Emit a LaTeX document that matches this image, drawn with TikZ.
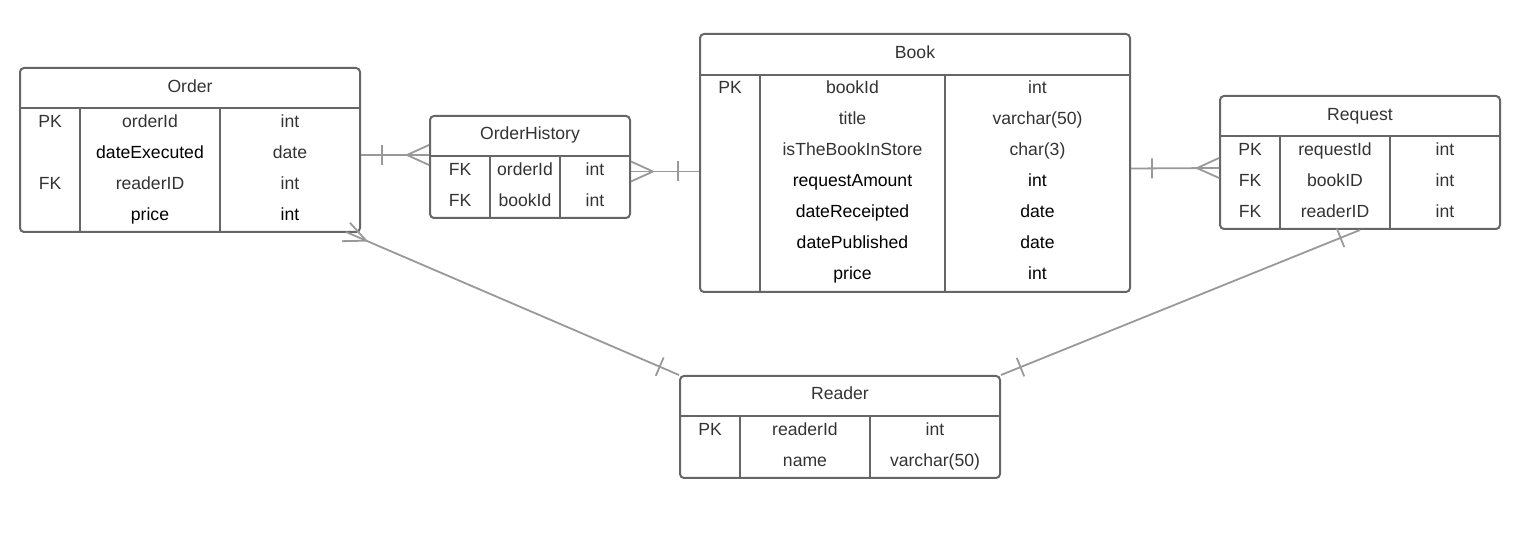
\documentclass[tikz,border=0pt]{standalone}
\usepackage{fontspec}
\setmainfont{Liberation Sans}
\usetikzlibrary{calc,decorations.markings}
\definecolor{bord}{HTML}{666666}
\definecolor{conn}{HTML}{999999}
\definecolor{txt}{HTML}{333333}
\begin{document}
\begin{tikzpicture}[x=0.5pt,y=-0.5pt, font=\fontsize{8.8}{10}\selectfont,
  tbl/.style={draw=bord, line width=1pt, rounded corners=2pt, inner sep=0pt},
  grid/.style={draw=bord, line width=1pt},
  cell/.style={anchor=base, inner sep=0pt, text=txt, yshift=-0.4pt},
  dk/.style={anchor=base, inner sep=0pt, text=black, yshift=-0.4pt},
  rel/.style={draw=conn, line width=0.9pt},
  crowE/.style={postaction={decorate,decoration={markings,mark=at position 1 with {\draw[rel] (-22,0) -- (0,10) (-22,0) -- (0,-10);}}}},
  crowS/.style={postaction={decorate,decoration={markings,mark=at position 0 with {\draw[rel] (22,0) -- (0,10) (22,0) -- (0,-10);}}}},
  barS/.style={postaction={decorate,decoration={markings,mark=at position 10.5pt with {\draw[rel] (0,-10) -- (0,10);}}}},
  barE/.style={postaction={decorate,decoration={markings,mark=at position -10.5pt with {\draw[rel] (0,-10) -- (0,10);}}}}
]
\useasboundingbox (0,0) rectangle (1520,560);

% ---------- Order ----------
\node[tbl, minimum width=170pt, minimum height=82pt] (order) at (190,150) {};
\draw[grid] (20,108) -- (360,108) (80,108) -- (80,232) (220,108) -- (220,232);
\node[cell] (orderT) at (190,91.5) {Order};
\node[cell] (o1a) at (50,126.5) {PK};
\node[cell] (o1b) at (150,126.5) {orderId};
\node[cell] (o1c) at (290,126.5) {int};
\node[dk]   (o2b) at (150,157.5) {dateExecuted};
\node[cell] (o2c) at (290,157.5) {date};
\node[cell] (o3a) at (50,188.5) {FK};
\node[cell] (o3b) at (150,188.5) {readerID};
\node[cell] (o3c) at (290,188.5) {int};
\node[dk]   (o4b) at (150,219.5) {price};
\node[dk]   (o4c) at (290,219.5) {int};

% ---------- OrderHistory ----------
\node[tbl, minimum width=100pt, minimum height=51pt] (oh) at (530,167) {};
\draw[grid] (430,156) -- (630,156) (490,156) -- (490,218) (560,156) -- (560,218);
\node[cell] (ohT) at (530,138.5) {OrderHistory};
\node[cell] (h1a) at (460,174.5) {FK};
\node[cell] (h1b) at (525,174.5) {orderId};
\node[cell] (h1c) at (595,174.5) {int};
\node[cell] (h2a) at (460,205.5) {FK};
\node[cell] (h2b) at (525,205.5) {bookId};
\node[cell] (h2c) at (595,205.5) {int};

% ---------- Book ----------
\node[tbl, minimum width=215pt, minimum height=129pt] (book) at (915,163) {};
\draw[grid] (700,75) -- (1130,75) (760,75) -- (760,292) (945,75) -- (945,292);
\node[cell] (bookT) at (915,57.5) {Book};
\node[cell] (b1a) at (730,93) {PK};
\node[cell] (b1b) at (852.5,93) {bookId};
\node[cell] (b1c) at (1037.5,93) {int};
\node[cell] (b2b) at (852.5,124) {title};
\node[cell] (b2c) at (1037.5,124) {varchar(50)};
\node[cell] (b3b) at (852.5,155) {isTheBookInStore};
\node[cell] (b3c) at (1037.5,155) {char(3)};
\node[dk]   (b4b) at (852.5,186) {requestAmount};
\node[dk]   (b4c) at (1037.5,186) {int};
\node[dk]   (b5b) at (852.5,217) {dateReceipted};
\node[dk]   (b5c) at (1037.5,217) {date};
\node[dk]   (b6b) at (852.5,248) {datePublished};
\node[dk]   (b6c) at (1037.5,248) {date};
\node[dk]   (b7b) at (852.5,279) {price};
\node[dk]   (b7c) at (1037.5,279) {int};

% ---------- Request ----------
\node[tbl, minimum width=140pt, minimum height=66.5pt] (request) at (1360,162.5) {};
\draw[grid] (1220,136) -- (1500,136) (1280,136) -- (1280,229) (1390,136) -- (1390,229);
\node[cell] (reqT) at (1360,119.5) {Request};
\node[cell] (r1a) at (1250,154.5) {PK};
\node[cell] (r1b) at (1335,154.5) {requestId};
\node[cell] (r1c) at (1445,154.5) {int};
\node[cell] (r2a) at (1250,185.5) {FK};
\node[cell] (r2b) at (1335,185.5) {bookID};
\node[cell] (r2c) at (1445,185.5) {int};
\node[cell] (r3a) at (1250,216.5) {FK};
\node[cell] (r3b) at (1335,216.5) {readerID};
\node[cell] (r3c) at (1445,216.5) {int};

% ---------- Reader ----------
\node[tbl, minimum width=160pt, minimum height=51pt] (reader) at (840,427) {};
\draw[grid] (680,416) -- (1000,416) (740,416) -- (740,478) (870,416) -- (870,478);
\node[cell] (readT) at (840,399) {Reader};
\node[cell] (d1a) at (710,434.5) {PK};
\node[cell] (d1b) at (805,434.5) {readerId};
\node[cell] (d1c) at (935,434.5) {int};
\node[cell] (d2b) at (805,465.5) {name};
\node[cell] (d2c) at (935,465.5) {varchar(50)};

% ---------- Relationships ----------
\draw[rel, barS, crowE] ($(order.east)+(0,5)$) -- ($(oh.west)+(0,-12)$);
\draw[rel, crowS, barE] ($(oh.east)+(0,4.5)$) -- ($(book.west)+(0,8.5)$);
\draw[rel, barS, crowE] ($(book.east)+(0,5.5)$) -- ($(request.west)+(0,5.5)$);
\draw[rel, crowS, barE] ($(order.south east)+(-15,-1)$) -- (reader.north west);
\draw[rel, barS, barE] (request.south) -- (reader.north east);
\end{tikzpicture}
\end{document}
